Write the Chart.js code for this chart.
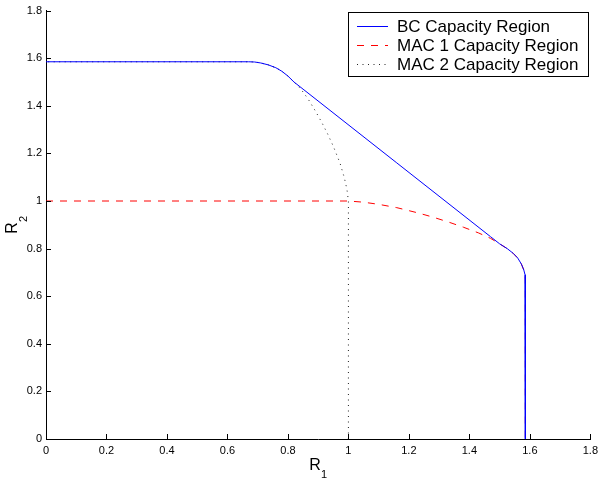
<!DOCTYPE html>
<html>
<head>
<meta charset="utf-8">
<title>BC / MAC capacity regions</title>
<script src="https://cdn.jsdelivr.net/npm/chart.js@4.4.1/dist/chart.umd.min.js"></script>
<style>
  html, body { margin: 0; padding: 0; background: #fff; }
</style>
</head>
<body>
<canvas id="regionChart" width="603" height="479"></canvas>
<script>
// values
const seriesLabels = ['BC Capacity Region', 'MAC 1 Capacity Region', 'MAC 2 Capacity Region'];
const seriesColors = ['#0000ff', '#ff0000', '#222222'];
const seriesDashes = [[], [7, 7], [1, 4.5]];

const bcR1 = [0, 0.67, 0.69, 0.71, 0.735, 0.76, 0.78, 0.80, 0.82, 0.85, 1.16, 1.47, 1.50, 1.525, 1.545, 1.56, 1.572, 1.58, 1.584, 1.585, 1.585];
const bcR2 = [1.585, 1.585, 1.584, 1.58, 1.572, 1.56, 1.545, 1.525, 1.50, 1.47, 1.16, 0.85, 0.82, 0.80, 0.78, 0.76, 0.735, 0.71, 0.69, 0.67, 0];

const mac1R1 = [0, 1.0, 1.05, 1.10, 1.16, 1.23, 1.28, 1.33, 1.38, 1.43, 1.47, 1.50, 1.525, 1.545, 1.56, 1.572, 1.58, 1.584, 1.585, 1.585];
const mac1R2 = [1.0, 1.0, 0.995, 0.986, 0.972, 0.95, 0.932, 0.912, 0.89, 0.866, 0.843, 0.82, 0.80, 0.78, 0.76, 0.735, 0.71, 0.69, 0.67, 0];

const mac2R1 = [1.0, 1.0, 0.995, 0.986, 0.972, 0.95, 0.932, 0.912, 0.89, 0.866, 0.843, 0.82, 0.80, 0.78, 0.76, 0.735, 0.71, 0.69, 0.67, 0];
const mac2R2 = [0, 1.0, 1.05, 1.10, 1.16, 1.23, 1.28, 1.33, 1.38, 1.43, 1.47, 1.50, 1.525, 1.545, 1.56, 1.572, 1.58, 1.584, 1.585, 1.585];

const xTicks = [0, 0.2, 0.4, 0.6, 0.8, 1, 1.2, 1.4, 1.6, 1.8];
const yTicks = [0, 0.2, 0.4, 0.6, 0.8, 1, 1.2, 1.4, 1.6, 1.8];

const FONT = "'Liberation Sans', Arial, Helvetica, sans-serif";

const toPoints = (xs, ys) => xs.map((v, i) => ({ x: v, y: ys[i] }));

// inward ticks, axis titles with subscripts, boxed legend inside the plot
const matlabDecor = {
  id: 'matlabDecor',
  afterDraw(chart) {
    const { ctx, chartArea, scales: { x, y } } = chart;
    ctx.save();

    ctx.strokeStyle = '#000';
    ctx.lineWidth = 1;
    ctx.setLineDash([]);
    ctx.beginPath();
    xTicks.forEach(v => {
      const px = Math.round(x.getPixelForValue(v)) + 0.5;
      ctx.moveTo(px, chartArea.bottom);
      ctx.lineTo(px, chartArea.bottom - 5);
    });
    yTicks.forEach(v => {
      const py = Math.round(y.getPixelForValue(v)) + 0.5;
      ctx.moveTo(chartArea.left, py);
      ctx.lineTo(chartArea.left + 5, py);
    });
    ctx.stroke();

    // axis titles
    ctx.fillStyle = '#000';
    ctx.textBaseline = 'alphabetic';
    ctx.textAlign = 'left';
    const cx = (chartArea.left + chartArea.right) / 2;
    const cy = (chartArea.top + chartArea.bottom) / 2;

    ctx.font = `16px ${FONT}`;
    const wR = ctx.measureText('R').width;
    ctx.font = `11px ${FONT}`;
    const wSub = ctx.measureText('1').width;
    let sx = cx - (wR + wSub) / 2;
    ctx.font = `16px ${FONT}`;
    ctx.fillText('R', sx, 470);
    ctx.font = `11px ${FONT}`;
    ctx.fillText('1', sx + wR, 478);

    ctx.save();
    ctx.translate(17, cy);
    ctx.rotate(-Math.PI / 2);
    sx = -(wR + wSub) / 2;
    ctx.font = `16px ${FONT}`;
    ctx.fillText('R', sx, 0);
    ctx.font = `11px ${FONT}`;
    ctx.fillText('2', sx + wR, 10);
    ctx.restore();

    // legend
    const box = { left: 348.5, top: 12.5, right: 588.5, bottom: 76.5 };
    ctx.fillStyle = '#fff';
    ctx.fillRect(box.left, box.top, box.right - box.left, box.bottom - box.top);
    ctx.strokeStyle = '#000';
    ctx.lineWidth = 1;
    ctx.strokeRect(box.left, box.top, box.right - box.left, box.bottom - box.top);

    const rows = [26, 45, 64];
    ctx.font = `17px ${FONT}`;
    ctx.textBaseline = 'middle';
    seriesLabels.forEach((label, i) => {
      const ry = rows[i] + 0.5;
      ctx.strokeStyle = seriesColors[i];
      ctx.lineWidth = 1;
      ctx.setLineDash(seriesDashes[i]);
      ctx.beginPath();
      ctx.moveTo(357, ry);
      ctx.lineTo(388, ry);
      ctx.stroke();
      ctx.setLineDash([]);
      ctx.fillStyle = '#000';
      ctx.fillText(label, 397, rows[i] + 1);
    });

    ctx.restore();
  }
};

const lineStyle = { showLine: true, pointRadius: 0, pointHoverRadius: 0, fill: false, tension: 0, borderWidth: 1 };

new Chart(document.getElementById('regionChart'), {
  type: 'scatter',
  data: {
    datasets: [
      { ...lineStyle, label: seriesLabels[0], data: toPoints(bcR1, bcR2), borderColor: seriesColors[0], borderDash: seriesDashes[0] },
      { ...lineStyle, label: seriesLabels[1], data: toPoints(mac1R1, mac1R2), borderColor: seriesColors[1], borderDash: seriesDashes[1] },
      { ...lineStyle, label: seriesLabels[2], data: toPoints(mac2R1, mac2R2), borderColor: seriesColors[2], borderDash: seriesDashes[2] }
    ]
  },
  options: {
    responsive: false,
    animation: false,
    layout: { padding: { top: 7, right: 9, left: 0, bottom: 0 } },
    scales: {
      x: {
        type: 'linear',
        min: 0,
        max: 1.8,
        afterBuildTicks: scale => { scale.ticks = xTicks.map(v => ({ value: v })); },
        afterFit: scale => { scale.height = 40; },
        ticks: { color: '#000', font: { family: FONT, size: 11 }, padding: 5, maxRotation: 0, autoSkip: false, callback: v => String(v) },
        grid: { display: true, drawOnChartArea: false, drawTicks: false },
        border: { display: true, color: '#000', width: 1 }
      },
      y: {
        type: 'linear',
        min: 0,
        max: 1.8,
        afterBuildTicks: scale => { scale.ticks = yTicks.map(v => ({ value: v })); },
        afterFit: scale => { scale.width = 46; },
        ticks: { color: '#000', font: { family: FONT, size: 11 }, padding: 4, autoSkip: false, callback: v => String(v) },
        grid: { display: true, drawOnChartArea: false, drawTicks: false },
        border: { display: true, color: '#000', width: 1 }
      }
    },
    plugins: {
      legend: { display: false },
      tooltip: { enabled: false }
    }
  },
  plugins: [matlabDecor]
});
</script>
</body>
</html>
